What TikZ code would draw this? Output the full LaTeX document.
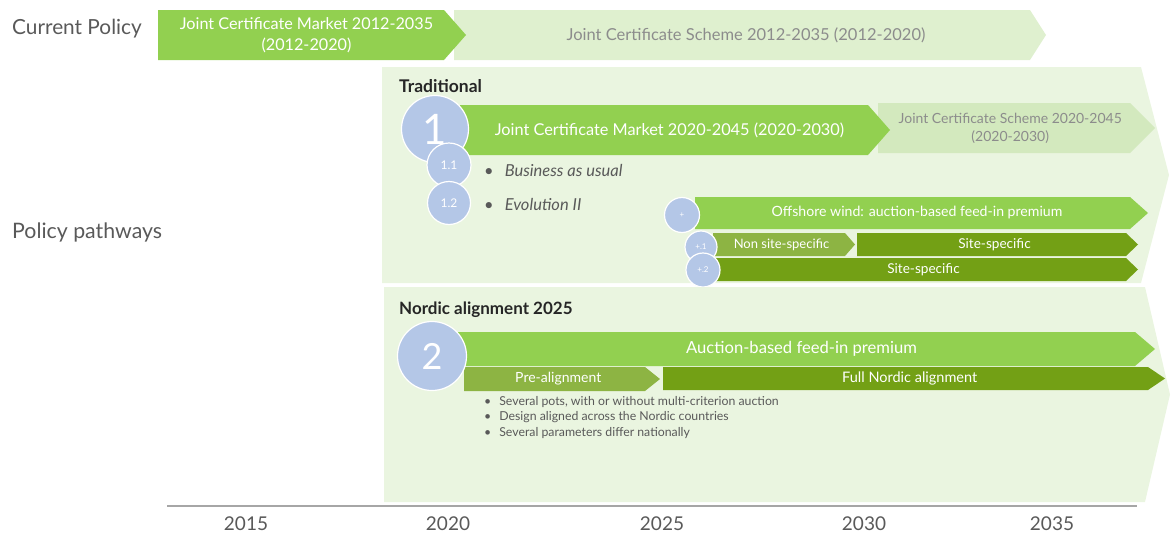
\documentclass[tikz,border=0pt]{standalone}
\usepackage{fontspec}
\setmainfont{Lato}
\usetikzlibrary{positioning}
\definecolor{leaf}{HTML}{92D050}
\definecolor{pale}{HTML}{DFF0CF}
\definecolor{panel}{HTML}{EAF5E0}
\definecolor{mint}{HTML}{D3E9BE}
\definecolor{olive}{HTML}{73A015}
\definecolor{moss}{HTML}{8DB443}
\definecolor{bubble}{HTML}{B4C7E7}
\definecolor{ink}{HTML}{595959}
\definecolor{dim}{HTML}{8C8C8C}
\newcommand\fs[1]{\fontsize{#1}{\fpeval{1.3*#1}}\selectfont}
% chevron: name, colour, x1, y1, x2, y2, tip depth, text style, text
\newcommand\chev[9]{%
  \fill[#2] (#3,#4) -- (#5,#4) -- ({#5+#7},{(#4+#6)/2}) -- (#5,#6) -- (#3,#6) -- cycle;
  \node[#8] (#1) at ({(#3+#5+#7/2)/2},{(#4+#6)/2}) {#9};}
\tikzset{
  wtxt/.style={text=white, align=center, inner sep=0pt},
  gtxt/.style={text=dim, align=center, inner sep=0pt},
  bub/.style={circle, fill=bubble, draw=white, line width=1.2pt, text=white, inner sep=0pt},
  note/.style={text=ink, anchor=west, inner sep=0pt},
  year/.style={text=ink, font=\fs{19}, inner sep=0pt}
}
\begin{document}
\begin{tikzpicture}[x=1pt, y=-1pt]
  \useasboundingbox (0,0) rectangle (1173,536);
  \node[note, font=\fs{20.8}] (cur) at (12,29) {Current Policy};
  \node[note, font=\fs{21.3}] (path) at (12,232) {Policy pathways};

  \chev{jcs}{pale}{454}{10}{1030}{60}{16}{gtxt, font=\fs{16.5}}{Joint Certificate Scheme 2012-2035 (2012-2020)}
  \chev{jcm}{leaf}{158}{10}{444}{60}{22}{wtxt, font=\fs{16.2}}{Joint Certificate Market 2012-2035\\(2012-2020)}

  % pathway 1
  \chev{tradbg}{panel}{382}{67}{1141}{283}{28}{}{}
  \node[anchor=west, inner sep=0pt, text=black!85, font=\fs{17.5}\bfseries] (trad) at (399,86) {Traditional};
  \chev{jcs2}{mint}{878}{103}{1130}{153}{25}{gtxt, font=\fs{14}}{Joint Certificate Scheme 2020-2045\\(2020-2030)}
  \chev{jcm2}{leaf}{460}{105}{868}{155}{22}{wtxt, font=\fs{16.3}}{Joint Certificate Market 2020-2045 (2020-2030)}
  \chev{off}{leaf}{695}{197}{1130}{229}{18}{wtxt, font=\fs{14.1}}{Offshore wind: auction-based feed-in premium}
  \chev{nss}{moss}{713}{233}{845}{256}{10}{wtxt, font=\fs{13}}{Non site-specific}
  \chev{ss1}{olive}{857}{233}{1126}{256}{12}{wtxt, font=\fs{13.6}}{Site-specific}
  \chev{ss2}{olive}{715}{258}{1126}{281}{12}{wtxt, font=\fs{13.6}}{Site-specific}
  \node[bub, minimum size=67, font=\fs{42}] (p1) at (435,129) {1};
  \node[bub, minimum size=44, font=\fs{12}] (p11) at (449,165) {1.1};
  \node[bub, minimum size=43, font=\fs{12}] (p12) at (449,203) {1.2};
  \node[bub, minimum size=35, font=\fs{8}] (pp) at (682,215) {+};
  \node[bub, minimum size=32, font=\fs{8}] (pp1) at (701,247) {+.1};
  \node[bub, minimum size=34, font=\fs{8}] (pp2) at (703,270) {+.2};
  \node[note, font=\fs{16.5}\itshape] (bau) at (484,170) {\textbullet\hspace{11pt}Business as usual};
  \node[note, font=\fs{16.5}\itshape] (evo) at (484,204) {\textbullet\hspace{11pt}Evolution II};

  % pathway 2
  \chev{nordbg}{panel}{384}{287}{1145}{502}{25}{}{}
  \node[anchor=west, inner sep=0pt, text=black!85, font=\fs{17}\bfseries] (nord) at (399,310) {Nordic alignment 2025};
  \chev{auc}{leaf}{458}{332}{1135}{366}{20}{wtxt, font=\fs{16.6}}{Auction-based feed-in premium}
  \chev{pre}{moss}{464}{367}{645}{391}{15}{wtxt, font=\fs{14}}{Pre-alignment}
  \chev{full}{olive}{663}{367}{1148}{390}{17}{wtxt, font=\fs{14.5}}{Full Nordic alignment}
  \node[bub, minimum size=69, font=\fs{36}] (p2) at (432,356) {2};
  \node[note, font=\fs{12.3}] (b1) at (484,402) {\textbullet\hspace{8pt}Several pots, with or without multi-criterion auction};
  \node[note, font=\fs{12.3}] (b2) at (484,417) {\textbullet\hspace{8pt}Design aligned across the Nordic countries};
  \node[note, font=\fs{12.3}] (b3) at (484,433) {\textbullet\hspace{8pt}Several parameters differ nationally};

  % time axis
  \coordinate (ax0) at (167,506);
  \coordinate (ax1) at (1137,506);
  \draw[black!35, line width=1.8pt] (ax0) -- (ax1);
  \node[year] (y15) at (246,524) {2015};
  \node[year] (y20) at (448,524) {2020};
  \node[year] (y25) at (662,524) {2025};
  \node[year] (y30) at (864,524) {2030};
  \node[year] (y35) at (1052,524) {2035};
\end{tikzpicture}
\end{document}
